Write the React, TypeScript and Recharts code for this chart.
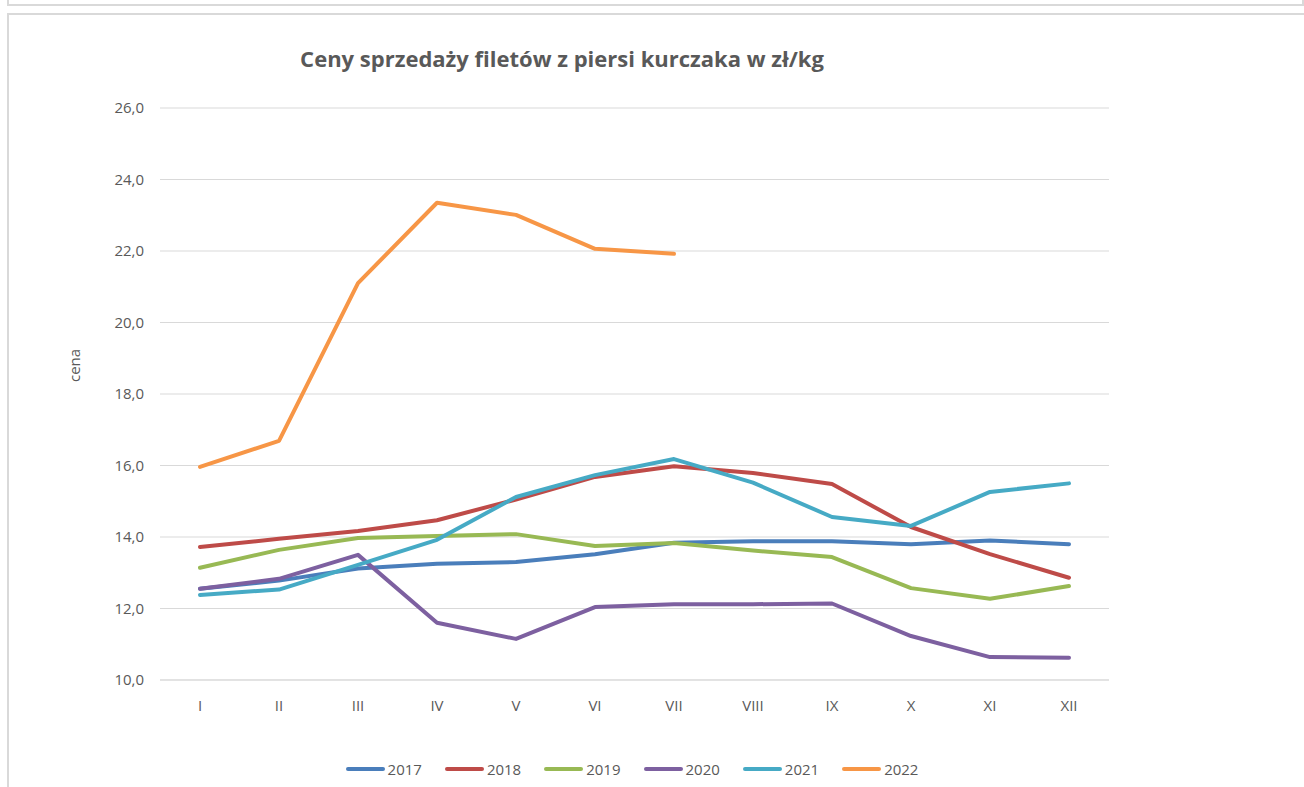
import { CartesianGrid, Line, LineChart, XAxis, YAxis } from "recharts"

const months = ["I", "II", "III", "IV", "V", "VI", "VII", "VIII", "IX", "X", "XI", "XII"]
const yTicks = [10, 12, 14, 16, 18, 20, 22, 24, 26]

const s2017 = [12.55, 12.78, 13.12, 13.25, 13.3, 13.52, 13.84, 13.88, 13.88, 13.8, 13.9, 13.8]
const s2018 = [13.72, 13.95, 14.17, 14.47, 15.05, 15.68, 15.98, 15.79, 15.48, 14.28, 13.52, 12.86]
const s2019 = [13.14, 13.64, 13.97, 14.03, 14.08, 13.75, 13.83, 13.62, 13.44, 12.57, 12.27, 12.63]
const s2020 = [12.55, 12.83, 13.5, 11.6, 11.15, 12.04, 12.12, 12.12, 12.14, 11.23, 10.64, 10.62]
const s2021 = [12.38, 12.53, 13.22, 13.92, 15.12, 15.73, 16.18, 15.52, 14.56, 14.31, 15.26, 15.5]
const s2022 = [15.96, 16.69, 21.1, 23.35, 23.01, 22.06, 21.92]

const series = [
  { key: "2017", values: s2017, color: "#4a7ebb" },
  { key: "2018", values: s2018, color: "#be4b48" },
  { key: "2019", values: s2019, color: "#98b954" },
  { key: "2020", values: s2020, color: "#7d60a0" },
  { key: "2021", values: s2021, color: "#46aac5" },
  { key: "2022", values: s2022, color: "#f79646" },
]

const data = months.map((m, i) => {
  const row: Record<string, string | number | null> = { name: m }
  series.forEach((s) => {
    row[s.key] = i < s.values.length ? s.values[i] : null
  })
  return row
})

const font = '"Open Sans", sans-serif'

// legend drawn as plain html below the plot
const ChartLegend = () => (
  <div
    style={{
      position: "absolute",
      left: 0,
      top: 745,
      width: 1248,
      display: "flex",
      justifyContent: "center",
      alignItems: "center",
      gap: 23,
    }}
  >
    {series.map((s) => (
      <div key={s.key} style={{ display: "flex", alignItems: "center" }}>
        <span style={{ display: "inline-block", width: 39, height: 4, borderRadius: 2, background: s.color }} />
        <span style={{ fontFamily: font, fontSize: 15, lineHeight: "20px", color: "#595959", marginLeft: 3 }}>{s.key}</span>
      </div>
    ))}
  </div>
)

const App = () => {
  return (
    <div style={{ position: "absolute", left: 0, top: 0, width: 1304, height: 787, overflow: "hidden", background: "#fff" }}>
      <div style={{ position: "absolute", left: 7, top: -20, width: 1293, height: 22, border: "2px solid #d9d9d9" }} />
      <div style={{ position: "absolute", left: 7, top: 13, width: 1320, height: 800, border: "2px solid #d9d9d9" }} />
      <div style={{ position: "absolute", left: 8, top: 14 }}>
        <LineChart
          width={1296}
          height={773}
          data={data}
          margin={{ top: 94, right: 195, left: 92, bottom: 77 }}
          style={{ fontFamily: font }}
        >
          <text
            x={554}
            y={47}
            textAnchor="middle"
            dominantBaseline="middle"
            fontSize={22}
            fontWeight="bold"
            fill="#595959"
            fontFamily={font}
          >
            Ceny sprzedaży filetów z piersi kurczaka w zł/kg
          </text>
          <CartesianGrid vertical={false} stroke="#d9d9d9" strokeWidth={1} />
          <XAxis
            dataKey="name"
            height={30}
            stroke="#d9d9d9"
            tickLine={false}
            tickMargin={14}
            padding={{ left: 40, right: 40 }}
            tick={{ fill: "#595959", fontSize: 15 }}
          />
          <YAxis
            width={60}
            domain={[10, 26]}
            ticks={yTicks}
            axisLine={false}
            tickLine={false}
            tickMargin={10}
            tick={{ fill: "#595959", fontSize: 15 }}
            tickFormatter={(v: number) => v.toFixed(1).replace(".", ",")}
            label={{ value: "cena", angle: -90, position: "insideLeft", offset: -25, dy: -12, fill: "#595959", fontSize: 15 }}
          />
          {series.map((s) => (
            <Line
              key={s.key}
              type="linear"
              dataKey={s.key}
              stroke={s.color}
              strokeWidth={4}
              strokeLinejoin="round"
              strokeLinecap="round"
              dot={false}
              activeDot={false}
              isAnimationActive={false}
            />
          ))}
        </LineChart>
        <ChartLegend />
      </div>
    </div>
  )
}

export default App
